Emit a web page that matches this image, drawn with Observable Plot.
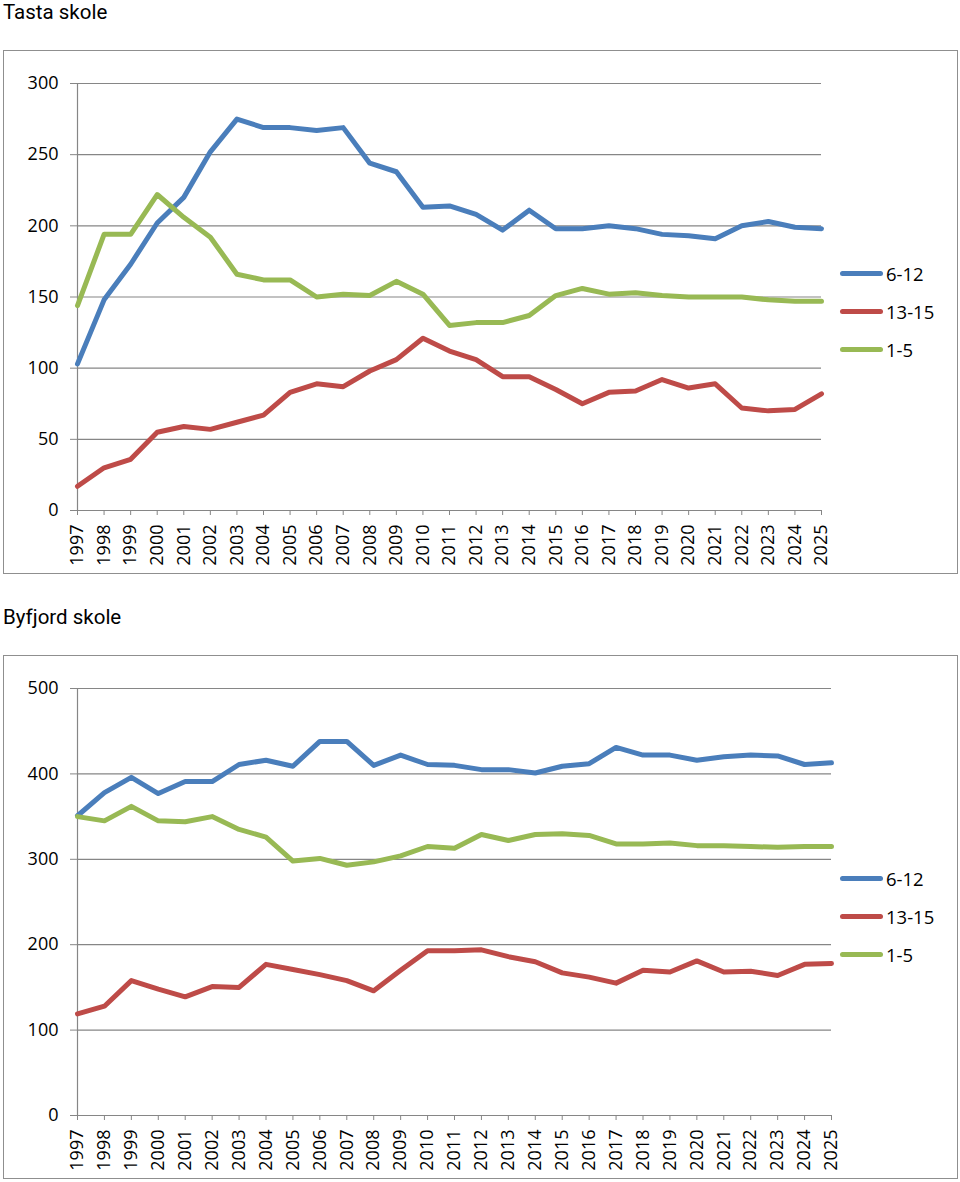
<!DOCTYPE html>
<html>
<head>
<meta charset="utf-8">
<script src="https://cdn.jsdelivr.net/npm/d3@7"></script>
<script src="https://cdn.jsdelivr.net/npm/@observablehq/plot@0.6"></script>
<style>
  body { margin: 0; background: #fff; }
  #root { position: relative; width: 960px; height: 1182px; font-family: "Open Sans", sans-serif; color: #000; }
  .title { position: absolute; left: 3px; font-family: Roboto, "Open Sans", sans-serif; font-size: 20.5px; line-height: normal; white-space: nowrap; }
  .frame { position: absolute; left: 3px; width: 953px; height: 522px; border: 1px solid #8f8f8f; }
  .chart { position: absolute; left: 0; }
  .chart svg text { font-size: 18px !important; }
  .legend { position: absolute; left: 840px; font-size: 18.5px; }
  .row { position: absolute; left: 0; height: 26px; display: flex; align-items: center; white-space: nowrap; }
  .sw { display: inline-block; width: 43px; height: 5px; border-radius: 2.5px; margin-right: 3px; }
</style>
</head>
<body>
<div id="root"></div>
<script>
const years = [1997,1998,1999,2000,2001,2002,2003,2004,2005,2006,2007,2008,2009,2010,2011,2012,2013,2014,2015,2016,2017,2018,2019,2020,2021,2022,2023,2024,2025];
const seriesNames = ["6-12", "13-15", "1-5"];
const seriesColors = ["#4A7EBB", "#BE4B48", "#98B954"];

const tasta612  = [103,148,173,202,220,252,275,269,269,267,269,244,238,213,214,208,197,211,198,198,200,198,194,193,191,200,203,199,198];
const tasta1315 = [17,30,36,55,59,57,62,67,83,89,87,98,106,121,112,106,94,94,85,75,83,84,92,86,89,72,70,71,82];
const tasta15   = [144,194,194,222,206,192,166,162,162,150,152,151,161,152,130,132,132,137,151,156,152,153,151,150,150,150,148,147,147];

const byfjord612  = [351,378,396,377,391,391,411,416,409,438,438,410,422,411,410,405,405,401,409,412,431,422,422,416,420,422,421,411,413];
const byfjord1315 = [119,128,158,148,139,151,150,177,171,165,158,146,170,193,193,194,186,180,167,162,155,170,168,181,168,169,164,177,178];
const byfjord15   = [350,345,362,345,344,350,335,326,298,301,293,297,304,315,313,329,322,329,330,328,318,318,319,316,316,315,314,315,315];

const tastaTicks = [0,50,100,150,200,250,300];
const byfjordTicks = [0,100,200,300,400,500];

function tidy(arrs) {
  const out = [];
  arrs.forEach((arr, s) => arr.forEach((v, i) => out.push({year: years[i], value: v, series: seriesNames[s]})));
  return out;
}

function makeChart(data, yTicks, marginRight) {
  const grey = "#868686";
  return Plot.plot({
    width: 960,
    height: 523,
    marginLeft: 77,
    marginRight: marginRight,
    marginTop: 33,
    marginBottom: 63,
    style: {fontFamily: "'Open Sans', sans-serif", fontSize: "18px", color: "#000", background: "transparent", overflow: "visible"},
    x: {type: "linear", domain: [years[0], years[years.length - 1]]},
    y: {domain: [yTicks[0], yTicks[yTicks.length - 1]]},
    color: {domain: seriesNames, range: seriesColors},
    marks: [
      Plot.ruleY(yTicks, {stroke: grey, strokeWidth: 1.2}),
      Plot.ruleX([years[0]], {stroke: grey, strokeWidth: 1.2}),
      Plot.axisY({ticks: yTicks, tickSize: 7, tickPadding: 12, stroke: grey, fill: "#000", label: null, fontSize: 18}),
      Plot.axisX({ticks: years, tickFormat: d => String(d), tickRotate: -90, tickSize: 5, tickPadding: 9, stroke: grey, fill: "#000", label: null, fontSize: 18}),
      Plot.line(data, {x: "year", y: "value", z: "series", stroke: "series", strokeWidth: 5, strokeLinejoin: "round", strokeLinecap: "round"})
    ]
  });
}

const root = document.getElementById("root");

function addBlock(title, top, data, yTicks, marginRight) {
  const t = document.createElement("div");
  t.className = "title";
  t.style.top = (top - 50) + "px";
  t.textContent = title;
  root.appendChild(t);

  const f = document.createElement("div");
  f.className = "frame";
  f.style.top = top + "px";
  root.appendChild(f);

  const c = document.createElement("div");
  c.className = "chart";
  c.style.top = top + "px";
  c.appendChild(makeChart(data, yTicks, marginRight));
  root.appendChild(c);

  const lg = document.createElement("div");
  lg.className = "legend";
  lg.style.top = top + "px";
  seriesNames.forEach((name, i) => {
    const r = document.createElement("div");
    r.className = "row";
    r.style.top = (210 + i * 38) + "px";
    const sw = document.createElement("span");
    sw.className = "sw";
    sw.style.background = seriesColors[i];
    const tx = document.createElement("span");
    tx.textContent = name;
    r.appendChild(sw);
    r.appendChild(tx);
    lg.appendChild(r);
  });
  root.appendChild(lg);
}

addBlock("Tasta skole", 50, tidy([tasta612, tasta1315, tasta15]), tastaTicks, 139);
addBlock("Byfjord skole", 655, tidy([byfjord612, byfjord1315, byfjord15]), byfjordTicks, 129);
</script>
</body>
</html>
